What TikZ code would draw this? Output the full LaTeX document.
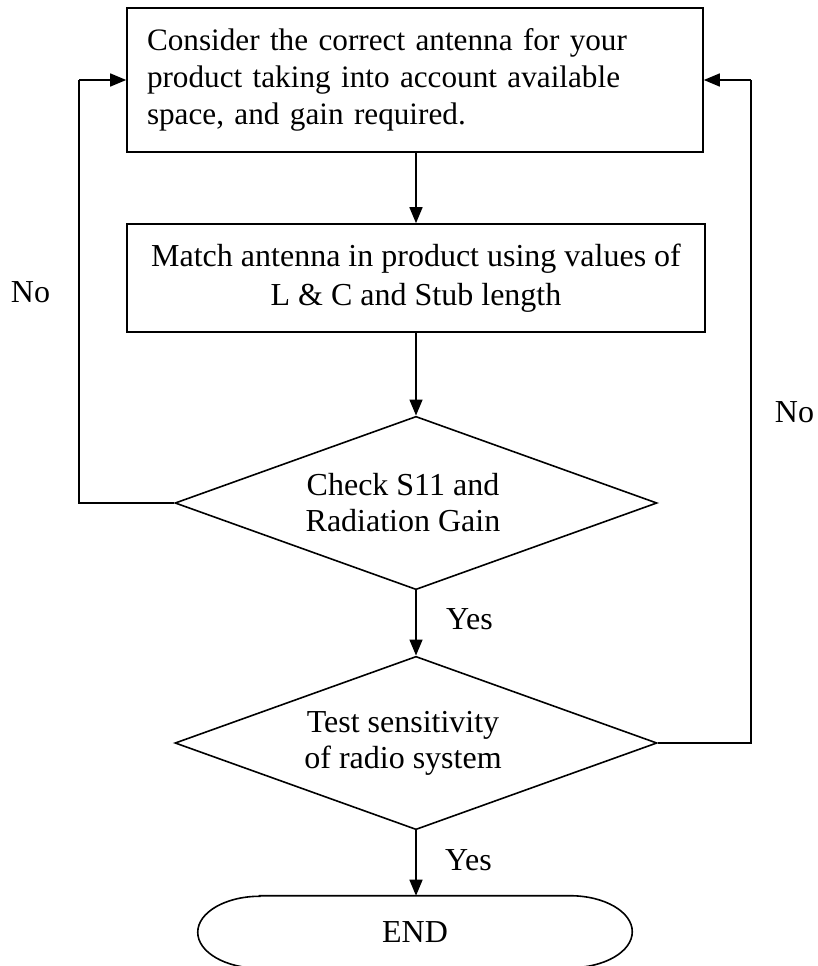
\documentclass[tikz,border=0pt]{standalone}
\usepackage{fontspec}
\setmainfont{Liberation Serif}
\usetikzlibrary{shapes.geometric,arrows.meta}
\tikzset{
  lbl/.style={font=\fontsize{24pt}{28pt}\selectfont, inner sep=0pt},
  procbox/.style={draw, line width=1.2pt, minimum height=108pt},
  decide/.style={draw, diamond, line width=1.2pt, inner sep=0pt, aspect=2.78, minimum width=361.5pt, minimum height=130pt, font=\fontsize{24pt}{27pt}\selectfont, align=center},
  arr/.style={line width=1.1pt, -{Triangle[length=12pt,width=9.75pt]}},
  ln/.style={line width=1.1pt},
}
\newcommand{\padr}{\rule{19.5pt}{0pt}}
\begin{document}
\begin{tikzpicture}[x=0.75pt,y=0.75pt]
\useasboundingbox (0,0) rectangle (817,-966);
% boxes
\node[procbox, text width=402pt, inner xsep=15pt, align=left, font=\fontsize{23.4pt}{28pt}\selectfont] (b1) at (415,-80)
  {Consider the correct antenna for your\\product taking into account available\\space, and gain required.};
\node[procbox, minimum width=433.5pt, align=center, minimum height=81pt, inner sep=0pt, font=\fontsize{24pt}{29pt}\selectfont] (b2) at (416,-278)
  {Match antenna in product using values of\\L \& C and Stub length};
% decisions
\node[decide] (d1) at (416,-503) {Check S11 and\padr\\Radiation Gain\padr};
\node[decide] (d2) at (416,-743) {Test sensitivity\padr\\of radio system\padr};
% terminal
\node[lbl, minimum width=325.5pt, minimum height=54pt] (e) at (415,-932) {END};
\draw[line width=1.2pt] ([xshift=46.5pt]e.north west) -- ([xshift=-46.5pt]e.north east)
  arc[start angle=90, end angle=-90, x radius=46.5pt, y radius=27pt]
  -- ([xshift=46.5pt]e.south west)
  arc[start angle=270, end angle=90, x radius=46.5pt, y radius=27pt] -- cycle;
% corner coordinates
\coordinate (lx) at (79,-80);
\coordinate (rx) at (751,-80);
% connectors
\draw[arr] (b2.north |- b1.south) -- (b2.north);
\draw[arr] (b2.south) -- (d1.north);
\draw[arr] (d1.south) -- (d2.north);
\draw[arr] (d2.south) -- (d2.south |- e.north);
\draw[ln] (d1.west) -| (lx);
\draw[arr] (lx) -- (b1.west);
\draw[ln] (d2.east) -| (rx);
\draw[arr] (rx) -- (b1.east);
% labels
\node[lbl, anchor=base] (no1) at (30.5,-302) {No};
\node[lbl, anchor=base] (no2) at (794.5,-422) {No};
\node[lbl, anchor=base] (yes1) at (469.5,-629) {Yes};
\node[lbl, anchor=base] (yes2) at (468.5,-870) {Yes};
\end{tikzpicture}
\end{document}
